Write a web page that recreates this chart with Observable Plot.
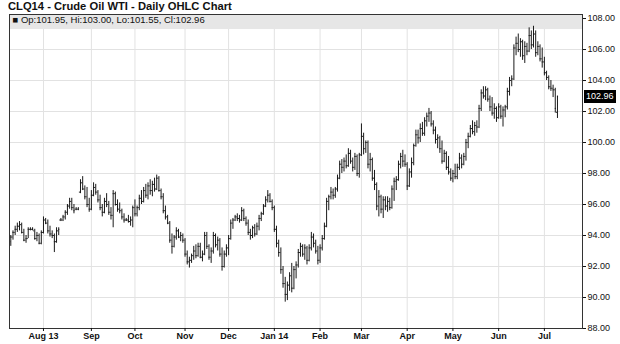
<!DOCTYPE html>
<html>
<head>
<meta charset="utf-8">
<script src="https://cdn.jsdelivr.net/npm/d3@7"></script>
<script src="https://cdn.jsdelivr.net/npm/@observablehq/plot@0.6"></script>
<style>
  html, body { margin: 0; padding: 0; background: #fff; overflow: hidden; }
  #title { height: 12px; line-height: 12px; padding-left: 8px; font: bold 11.2px "Liberation Sans", Arial, sans-serif; color: #111; white-space: nowrap; }
  #chart { position: relative; }
  #chart svg { display: block; }
  #lastPrice { position: absolute; left: 584px; background: #000; color: #fff; font: 9px "Liberation Sans", Arial, sans-serif; padding: 1px 2px; line-height: 11px; }
</style>
</head>
<body>
<div id="title">CLQ14 - Crude Oil WTI - Daily OHLC Chart</div>
<div id="chart"></div>
<script>
// Trading days start 2013-07-11, exchange holidays skipped
const startDate = "2013-07-11";
const holidays = ["2013-09-02","2013-11-28","2013-12-25","2014-01-01","2014-01-20","2014-02-17","2014-04-18","2014-05-26","2014-07-04"];
const monthLabels = ["Aug 13","Sep","Oct","Nov","Dec","Jan 14","Feb","Mar","Apr","May","Jun","Jul"];
const yTicks = [88,90,92,94,96,98,100,102,104,106,108];

const open = [
93.6,93.9,94.2,94.4,94.6,94.7,94.2,93.7,93.8,94.4,
94.4,94.3,93.8,94.0,93.5,94.2,95.0,94.8,94.3,94.1,
94.0,93.6,94.3,95.0,95.0,95.2,95.5,95.9,96.2,95.8,
95.7,95.7,96.8,97.4,97.0,96.5,96.0,95.7,96.6,97.1,
96.8,96.3,95.8,95.5,96.2,96.0,95.5,95.3,96.7,96.0,
95.7,95.6,95.2,95.0,95.0,94.9,95.0,95.8,95.4,95.8,
96.4,96.2,96.9,96.6,97.2,96.9,97.3,97.0,97.7,96.9,
96.5,95.6,95.2,94.8,93.7,93.3,93.9,94.3,93.9,94.0,
93.7,92.8,92.3,92.4,92.7,93.0,92.7,93.3,92.6,92.8,
94.0,93.3,92.6,93.0,94.0,93.4,93.7,92.8,92.0,92.8,
93.2,93.8,94.8,95.0,95.2,95.1,95.0,95.6,95.1,94.8,
94.2,94.0,94.5,94.1,94.6,95.1,95.4,95.9,96.3,96.6,
96.2,95.8,94.4,93.5,92.9,91.8,90.9,90.2,90.8,91.4,
90.6,91.8,92.1,92.9,93.3,92.8,93.2,92.4,93.2,93.9,
93.5,93.0,92.4,93.2,93.8,94.6,96.2,96.5,96.8,96.6,
97.0,97.7,98.6,98.4,98.8,98.5,99.3,98.8,98.4,99.1,
98.0,99.2,100.4,99.6,100.0,98.6,98.9,97.7,97.3,95.9,
96.5,95.7,96.3,95.9,96.2,95.8,97.0,97.5,97.6,98.6,
99.1,98.8,98.6,97.2,98.1,98.7,99.8,100.5,100.3,100.9,
100.6,101.4,101.7,101.9,101.2,100.8,100.2,100.3,99.6,98.8,
99.3,98.4,98.1,97.7,98.0,97.8,98.4,99.0,98.6,99.1,
100.0,100.4,100.9,100.7,101.1,101.0,102.2,103.2,103.0,103.4,
102.8,102.3,101.9,102.2,101.6,102.3,101.7,102.1,102.3,103.3,
104.0,104.1,106.1,106.4,106.0,106.5,105.6,106.2,105.9,106.9,
106.3,107.0,105.8,106.2,105.4,105.2,104.5,104.2,103.6,103.5,
103.4,101.95];
const high = [
94.0,94.3,94.6,94.8,94.9,94.8,94.4,94.0,94.5,94.5,
94.5,94.4,94.2,94.1,94.3,95.2,95.1,95.0,94.6,94.3,
94.1,94.5,94.5,95.1,95.3,95.6,96.0,96.4,96.4,96.0,
95.8,95.8,97.6,97.8,97.2,97.1,96.4,96.9,97.4,97.3,
96.9,96.6,96.0,96.4,96.7,96.2,95.8,96.9,96.8,96.3,
96.1,95.7,95.4,95.1,95.3,95.2,95.9,96.3,95.9,96.6,
96.9,97.1,97.3,97.4,97.6,97.5,97.7,97.9,97.8,97.0,
96.7,95.9,95.3,94.9,94.1,94.0,94.5,94.4,94.2,94.1,
93.8,93.0,92.6,92.8,93.3,93.4,93.5,93.5,93.0,94.2,
94.2,93.4,93.2,94.2,94.1,93.9,93.8,93.2,93.0,93.4,
94.0,95.0,95.1,95.3,95.4,95.3,95.8,95.7,95.2,95.0,
94.4,94.6,94.7,94.8,95.3,95.5,96.0,96.5,96.9,96.7,
96.3,95.9,94.6,93.7,93.2,92.0,91.3,91.0,91.6,92.2,
92.0,92.3,93.1,93.5,93.4,93.4,93.3,93.4,94.2,94.1,
93.7,93.3,93.4,94.0,94.8,96.4,96.6,97.1,97.0,97.1,
97.9,98.8,98.9,99.0,99.2,99.6,99.5,99.0,99.3,99.2,
99.3,101.2,100.6,100.1,100.1,99.3,99.0,98.2,97.4,96.9,
96.6,96.5,96.5,96.5,96.4,97.2,97.7,97.8,98.8,99.3,
99.5,99.2,98.7,98.3,99.0,99.9,100.8,100.8,101.2,101.3,
101.6,101.9,102.2,102.0,101.4,101.0,100.5,100.4,100.1,99.5,
99.4,99.1,98.3,98.2,98.6,98.6,99.3,99.2,99.3,100.2,
100.6,101.1,101.4,101.3,101.4,102.4,103.4,103.6,103.6,103.5,
103.0,102.9,102.5,102.3,102.5,102.4,102.3,102.4,103.5,104.2,
104.3,106.3,106.8,107.0,106.7,106.6,106.5,106.4,107.4,107.2,
107.5,107.2,106.5,106.3,106.1,105.5,104.6,104.3,104.0,103.7,
103.5,103.00];
const low = [
93.3,93.7,94.0,94.2,94.3,94.1,93.6,93.5,93.8,94.3,
94.3,93.7,93.6,93.4,93.4,94.1,94.7,94.1,93.9,93.8,
92.9,93.5,94.0,94.9,94.9,95.0,95.3,95.7,95.6,95.4,
95.6,95.6,96.7,96.9,96.3,95.8,95.5,95.6,96.5,96.6,
96.1,95.6,95.2,95.4,95.8,95.3,95.0,94.5,95.9,95.5,
95.4,95.0,94.8,94.9,94.8,94.6,94.5,95.2,95.2,95.6,
96.0,96.1,96.4,96.3,96.6,96.5,96.8,96.9,96.8,96.3,
95.4,95.0,94.7,93.5,92.8,93.2,93.7,93.8,93.6,93.5,
92.6,92.1,91.9,92.2,92.4,92.5,92.6,92.5,92.3,92.7,
93.1,92.4,92.2,92.8,93.2,93.0,92.6,91.7,91.9,92.6,
92.7,93.7,94.4,94.9,94.9,94.8,94.9,94.9,94.6,94.0,
93.7,93.8,93.9,94.0,94.3,94.9,95.3,95.8,96.1,96.1,
95.6,94.2,93.2,92.6,91.5,90.6,89.7,89.8,90.4,90.3,
90.5,91.2,91.9,92.6,92.6,92.4,92.1,92.3,93.0,93.2,
92.8,92.1,92.2,93.0,93.7,94.5,95.6,96.3,96.3,96.4,
96.8,97.6,98.0,98.1,98.3,98.4,98.6,98.1,98.2,97.8,
97.7,99.1,99.2,99.3,98.3,98.1,97.5,96.9,95.6,95.2,
95.4,95.1,95.6,95.5,95.6,95.7,96.2,96.9,97.5,98.3,
98.4,98.4,96.9,97.1,97.7,98.5,99.7,99.9,100.0,100.4,
100.4,101.0,101.3,101.0,100.5,99.9,99.6,99.3,98.6,98.7,
98.2,97.9,97.5,97.4,97.6,97.6,98.2,98.3,98.5,98.8,
99.6,100.3,100.5,100.4,100.6,100.9,102.0,102.8,102.7,102.6,
102.0,101.7,101.5,101.3,101.5,101.5,101.0,101.6,102.1,103.0,
103.6,104.0,105.6,105.8,105.5,105.3,105.1,105.6,105.8,106.0,
106.1,105.5,105.6,105.2,104.8,104.3,104.0,103.4,103.3,102.9,
101.9,101.55];
const close = [
93.9,94.2,94.4,94.6,94.7,94.2,93.7,93.8,94.4,94.4,
94.4,93.8,94.0,93.5,94.2,95.0,94.8,94.3,94.1,94.0,
93.6,94.3,94.4,95.0,95.2,95.5,95.9,96.2,95.8,95.6,
95.7,95.7,97.4,97.0,96.5,96.0,95.7,96.6,97.1,96.8,
96.3,95.8,95.5,96.2,96.0,95.5,95.3,96.7,96.0,95.7,
95.6,95.2,95.0,95.0,94.9,95.0,95.8,95.4,95.8,96.4,
96.2,96.9,96.6,97.2,96.9,97.3,97.0,97.7,96.9,96.5,
95.6,95.2,94.8,93.7,93.3,93.9,94.3,93.9,94.0,93.7,
92.8,92.3,92.4,92.7,93.0,92.7,93.3,92.6,92.8,94.0,
93.3,92.6,93.0,94.0,93.4,93.7,92.8,92.0,92.8,93.2,
93.8,94.8,95.0,95.2,95.1,95.0,95.6,95.1,94.8,94.2,
94.0,94.5,94.1,94.6,95.1,95.4,95.9,96.3,96.6,96.2,
95.8,94.4,93.5,92.9,91.8,90.9,90.2,90.8,91.4,90.6,
91.8,92.1,92.9,93.3,92.8,93.2,92.4,93.2,93.9,93.5,
93.0,92.4,93.2,93.8,94.6,96.2,96.5,96.8,96.6,97.0,
97.7,98.6,98.4,98.8,98.5,99.3,98.8,98.4,99.1,98.0,
99.2,100.4,99.6,100.0,98.6,98.9,97.7,97.3,95.9,96.5,
95.7,96.3,95.9,96.2,95.8,97.0,97.5,97.6,98.6,99.1,
98.8,98.6,97.2,98.1,98.7,99.8,100.5,100.3,100.9,100.6,
101.4,101.7,101.9,101.2,100.8,100.2,100.3,99.6,98.8,99.3,
98.4,98.1,97.7,98.0,97.8,98.4,99.0,98.6,99.1,100.0,
100.4,100.9,100.7,101.1,101.0,102.2,103.2,103.0,103.4,102.8,
102.3,101.9,102.2,101.6,102.3,101.7,102.1,102.3,103.3,104.0,
104.1,106.1,106.4,106.0,106.5,105.6,106.2,105.9,106.9,106.3,
107.0,105.8,106.2,105.4,105.2,104.5,104.2,103.6,103.5,103.4,
102.2,102.96];

// build trading-day calendar
const fmt = d3.utcFormat("%Y-%m-%d");
const dates = [];
for (let d = new Date(startDate + "T00:00:00Z"); dates.length < open.length; d = d3.utcDay.offset(d, 1)) {
  const wd = d.getUTCDay();
  if (wd === 0 || wd === 6 || holidays.includes(fmt(d))) continue;
  dates.push(new Date(d));
}
const rows = dates.map((date, i) => ({i, date, o: open[i], h: high[i], l: low[i], c: close[i]}));
const monthIdx = rows.filter((r, k) => k > 0 && r.date.getUTCMonth() !== rows[k - 1].date.getUTCMonth()).map(r => r.i);
const labelOf = new Map(monthIdx.map((v, k) => [v, monthLabels[k]]));

const last = rows[rows.length - 1];
const f2 = d3.format(".2f");
const legendText = `\u25A0 Op:${f2(last.o)}, Hi:${f2(last.h)}, Lo:${f2(last.l)}, Cl:${f2(last.c)}`;

const xDomain = [-0.6, 262.5];
const yDomain = [88, 108.26];
const bandDepth = 0.97;

const chart = Plot.plot({
  width: 620, height: 332,
  marginLeft: 9, marginRight: 38, marginTop: 2, marginBottom: 16,
  x: {domain: xDomain, axis: null, label: null},
  y: {domain: yDomain, axis: null, label: null},
  style: {fontFamily: "'Liberation Sans', Arial, sans-serif", fontSize: "9px", background: "white", color: "#111"},
  marks: [
    Plot.ruleY(yTicks, {stroke: "#e2e2e2"}),
    Plot.ruleX(monthIdx, {stroke: "#e2e2e2"}),
    Plot.rect([0], {x1: xDomain[0], x2: xDomain[1], y1: yDomain[1], y2: yDomain[1] - bandDepth, fill: "#e6e6e6"}),
    Plot.ruleX(rows, {x: "i", y1: "l", y2: "h", stroke: "#1a1a1a"}),
    Plot.ruleY(rows, {y: "o", x1: d => d.i - 0.5, x2: "i", stroke: "#1a1a1a"}),
    Plot.ruleY(rows, {y: "c", x1: "i", x2: d => d.i + 0.5, stroke: "#1a1a1a"}),
    Plot.frame({stroke: "#333"}),
    Plot.axisY(yTicks, {anchor: "right", label: null, tickFormat: f2, tickSize: 3, tickPadding: 2, fontSize: 9}),
    Plot.axisX(monthIdx, {anchor: "bottom", label: null, tickFormat: d => labelOf.get(d), tickSize: 3, tickPadding: 1, fontWeight: "bold", fontSize: 9}),
    Plot.text([legendText], {frameAnchor: "top-left", dx: 3, dy: 2, lineAnchor: "top", text: d => d, fontSize: 9.5, fill: "#111"})
  ]
});
const holder = document.getElementById("chart");
holder.appendChild(chart);

// last-price marker in the right margin, placed with the chart's own y scale
const yPix = chart.scale("y").apply(last.c);
const lab = document.createElement("div");
lab.id = "lastPrice";
lab.textContent = f2(last.c);
holder.appendChild(lab);
lab.style.top = (yPix - lab.offsetHeight / 2) + "px";
</script>
</body>
</html>
